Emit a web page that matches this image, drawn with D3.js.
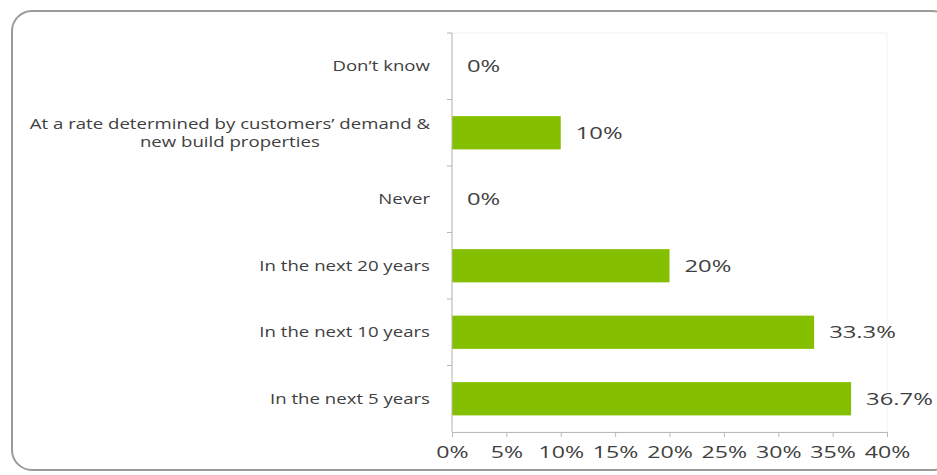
<!DOCTYPE html>
<html>
<head>
<meta charset="utf-8">
<script src="https://cdn.jsdelivr.net/npm/d3@7"></script>
<style>
  html, body { margin: 0; padding: 0; background: #fff; }
  svg { display: block; }
</style>
</head>
<body>
<svg id="chart" width="937" height="475"></svg>
<script>
// Survey answers, listed top to bottom
const categories = [
  ["Don\u2019t know"],
  ["At a rate determined by customers\u2019 demand &", "new build properties"],
  ["Never"],
  ["In the next 20 years"],
  ["In the next 10 years"],
  ["In the next 5 years"]
];
const values = [0, 10, 0, 20, 33.3, 36.7];
const valueLabels = ["0%", "10%", "0%", "20%", "33.3%", "36.7%"];
const xTicks = [0, 5, 10, 15, 20, 25, 30, 35, 40];

const svg = d3.select("#chart");
const font = "'Open Sans', 'DejaVu Sans', sans-serif";
const textColor = "#404040";
const stretch = 1.36;        // wide, horizontally stretched lettering
const labelStretch = 1.33;

// Outer rounded frame
svg.append("rect")
  .attr("x", 12).attr("y", 11)
  .attr("width", 940).attr("height", 459)
  .attr("rx", 20).attr("ry", 20)
  .attr("fill", "#fff")
  .attr("stroke", "#9a9a9a")
  .attr("stroke-width", 2);

const plot = { left: 452, right: 887, top: 33, bottom: 432 };

const x = d3.scaleLinear().domain([0, 40]).range([plot.left, plot.right]);
const y = d3.scaleBand()
  .domain(d3.range(categories.length))
  .range([plot.top, plot.bottom])
  .paddingInner(0.5).paddingOuter(0.25);

// Faint plot-area outline
svg.append("rect")
  .attr("x", plot.left).attr("y", plot.top)
  .attr("width", plot.right - plot.left).attr("height", plot.bottom - plot.top)
  .attr("fill", "none").attr("stroke", "#f2f2f2");

// Bars
svg.append("g").selectAll("rect")
  .data(values)
  .join("rect")
  .attr("x", x(0))
  .attr("y", (d, i) => y(i))
  .attr("width", d => x(d) - x(0))
  .attr("height", y.bandwidth())
  .attr("fill", "#84c000");

// Value labels
svg.append("g").selectAll("text")
  .data(values)
  .join("text")
  .attr("transform", (d, i) =>
    `translate(${x(d) + 15},${y(i) + y.bandwidth() / 2}) scale(${stretch + 0.04},1)`)
  .attr("dy", "0.35em")
  .attr("font-family", font)
  .attr("font-size", 17)
  .attr("fill", textColor)
  .text((d, i) => valueLabels[i]);

// X axis
const xAxis = svg.append("g")
  .attr("transform", `translate(0,${plot.bottom})`)
  .call(d3.axisBottom(x).tickValues(xTicks).tickFormat(d => d + "%").tickSize(5).tickPadding(0));
xAxis.select(".domain").attr("stroke", "#b8b8b8");
xAxis.selectAll(".tick line").attr("stroke", "#b8b8b8");
xAxis.selectAll(".tick text")
  .attr("y", null).attr("dy", null)
  .attr("transform", `translate(0,26) scale(${stretch},1)`)
  .attr("font-family", font).attr("font-size", 17).attr("fill", textColor);

// Y axis line with category separators
const step = (plot.bottom - plot.top) / categories.length;
const yLine = svg.append("g");
yLine.append("line")
  .attr("x1", plot.left).attr("x2", plot.left)
  .attr("y1", plot.top).attr("y2", plot.bottom)
  .attr("stroke", "#b8b8b8");
yLine.selectAll("line.sep")
  .data(d3.range(categories.length))
  .join("line").attr("class", "sep")
  .attr("x1", plot.left - 5).attr("x2", plot.left)
  .attr("y1", i => plot.top + i * step).attr("y2", i => plot.top + i * step)
  .attr("stroke", "#b8b8b8");

// Category labels: right-aligned block, multi-line rows centred within it
const labelRight = 430;
const lineHeight = 18;
const labels = svg.append("g").selectAll("text")
  .data(categories)
  .join("text")
  .attr("text-anchor", "middle")
  .attr("font-family", font)
  .attr("font-size", 14)
  .attr("fill", textColor);

labels.each(function (lines, i) {
  const t = d3.select(this);
  lines.forEach((ln, k) => {
    t.append("tspan")
      .attr("x", 0)
      .attr("y", (k - (lines.length - 1) / 2) * lineHeight)
      .attr("dy", "0.35em")
      .text(ln);
  });
  const w = d3.max(t.selectAll("tspan").nodes(), s => s.getComputedTextLength()) * labelStretch;
  const cy = y(i) + y.bandwidth() / 2;
  t.attr("transform", `translate(${labelRight - w / 2},${cy}) scale(${labelStretch},1)`);
});
</script>
</body>
</html>
